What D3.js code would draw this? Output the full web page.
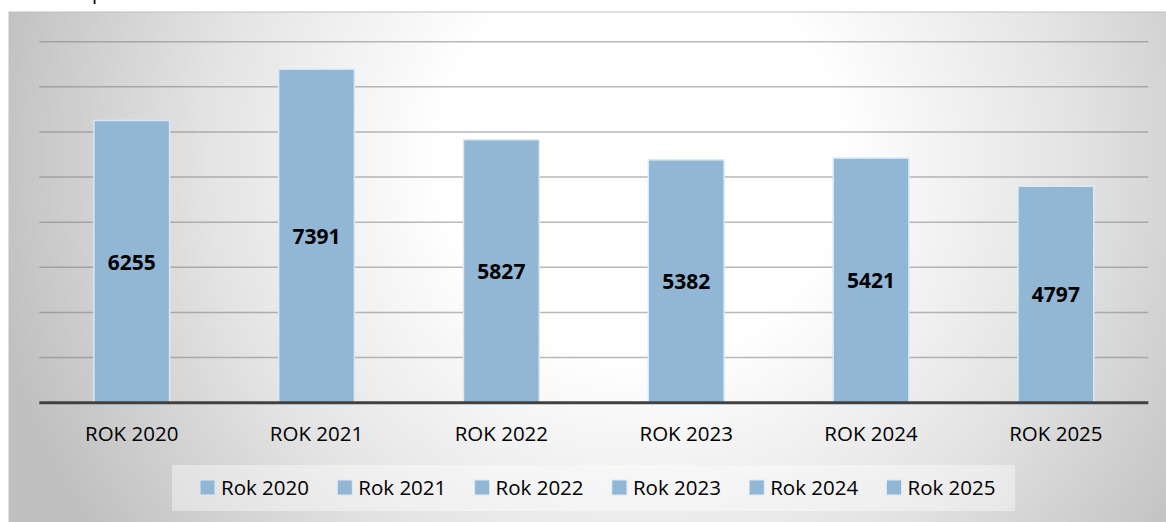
<!DOCTYPE html>
<html>
<head>
<meta charset="utf-8">
<script src="https://cdn.jsdelivr.net/npm/d3@7"></script>
<style>
  html, body { margin: 0; padding: 0; background: #ffffff; }
  svg { display: block; }
  text { font-family: "Open Sans", "Noto Sans", sans-serif; }
</style>
</head>
<body>
<svg id="chart" width="1166" height="522"></svg>
<script>
const categories = ["ROK 2020", "ROK 2021", "ROK 2022", "ROK 2023", "ROK 2024", "ROK 2025"];
const seriesNames = ["Rok 2020", "Rok 2021", "Rok 2022", "Rok 2023", "Rok 2024", "Rok 2025"];
const values = [6255, 7391, 5827, 5382, 5421, 4797];
const yTicks = [0, 1000, 2000, 3000, 4000, 5000, 6000, 7000, 8000];

const svg = d3.select("#chart");
const W = 1166, H = 522;

// background gradient
const defs = svg.append("defs");
const grad = defs.append("radialGradient")
  .attr("id", "bg").attr("gradientUnits", "userSpaceOnUse")
  .attr("cx", 640).attr("cy", 160).attr("r", 660);
grad.append("stop").attr("offset", "0").attr("stop-color", "#ffffff");
grad.append("stop").attr("offset", "0.3").attr("stop-color", "#ffffff");
grad.append("stop").attr("offset", "0.65").attr("stop-color", "#e4e4e4");
grad.append("stop").attr("offset", "1").attr("stop-color", "#c0c0c0");

// cut-off text fragment at top (as in the reference)
svg.append("text").attr("x", 92).attr("y", -1).attr("font-size", 20).attr("fill", "#000").text("p");

svg.append("rect").attr("x", 9).attr("y", 12).attr("width", W - 9 + 2).attr("height", H - 12 + 2)
  .attr("fill", "url(#bg)").attr("stroke", "#bfbfbf").attr("stroke-width", 1);

const x0 = 39.3, x1 = 1148.3, yBase = 402.7, yTop = 41.7;
const x = d3.scaleBand().domain(categories).range([x0, x1]).paddingInner(0.59).paddingOuter(0.295);
const y = d3.scaleLinear().domain([0, 8000]).range([yBase, yTop]);

// gridlines
svg.append("g").selectAll("line").data(yTicks.filter(d => d > 0)).join("line")
  .attr("x1", x0).attr("x2", x1)
  .attr("y1", d => y(d)).attr("y2", d => y(d))
  .attr("stroke", "#808080").attr("stroke-opacity", 0.55).attr("stroke-width", 1.5);

// bars
svg.append("g").selectAll("rect").data(values).join("rect")
  .attr("x", (d, i) => x(categories[i]))
  .attr("y", d => y(d))
  .attr("width", x.bandwidth())
  .attr("height", d => yBase - y(d))
  .attr("fill", "#92b7d5")
  .attr("stroke", "#dce9f4").attr("stroke-width", 1.5);

// baseline
svg.append("line").attr("x1", x0).attr("x2", x1).attr("y1", yBase).attr("y2", yBase)
  .attr("stroke", "#404040").attr("stroke-width", 3);

// value labels
svg.append("g").selectAll("text").data(values).join("text")
  .attr("x", (d, i) => x(categories[i]) + x.bandwidth() / 2)
  .attr("y", d => (y(d) + yBase) / 2)
  .attr("text-anchor", "middle").attr("dominant-baseline", "central")
  .attr("font-size", 21).attr("font-weight", "bold").attr("fill", "#000")
  .text(d => d);

// category axis labels
svg.append("g").selectAll("text").data(categories).join("text")
  .attr("x", d => x(d) + x.bandwidth() / 2)
  .attr("y", 441)
  .attr("text-anchor", "middle").attr("font-size", 20.5).attr("fill", "#000")
  .text(d => d);

// legend
svg.append("rect").attr("x", 172).attr("y", 465).attr("width", 843).attr("height", 46)
  .attr("fill", "#ffffff").attr("fill-opacity", 0.4);
const lg = svg.append("g").selectAll("g").data(seriesNames).join("g")
  .attr("transform", (d, i) => `translate(${200 + i * 137.3},480)`);
lg.append("rect").attr("width", 15).attr("height", 15)
  .attr("fill", "#92b7d5").attr("stroke", "#dce9f4").attr("stroke-width", 1);
lg.append("text").attr("x", 21).attr("y", 15).attr("font-size", 20.5).attr("fill", "#000")
  .text(d => d);
</script>
</body>
</html>
